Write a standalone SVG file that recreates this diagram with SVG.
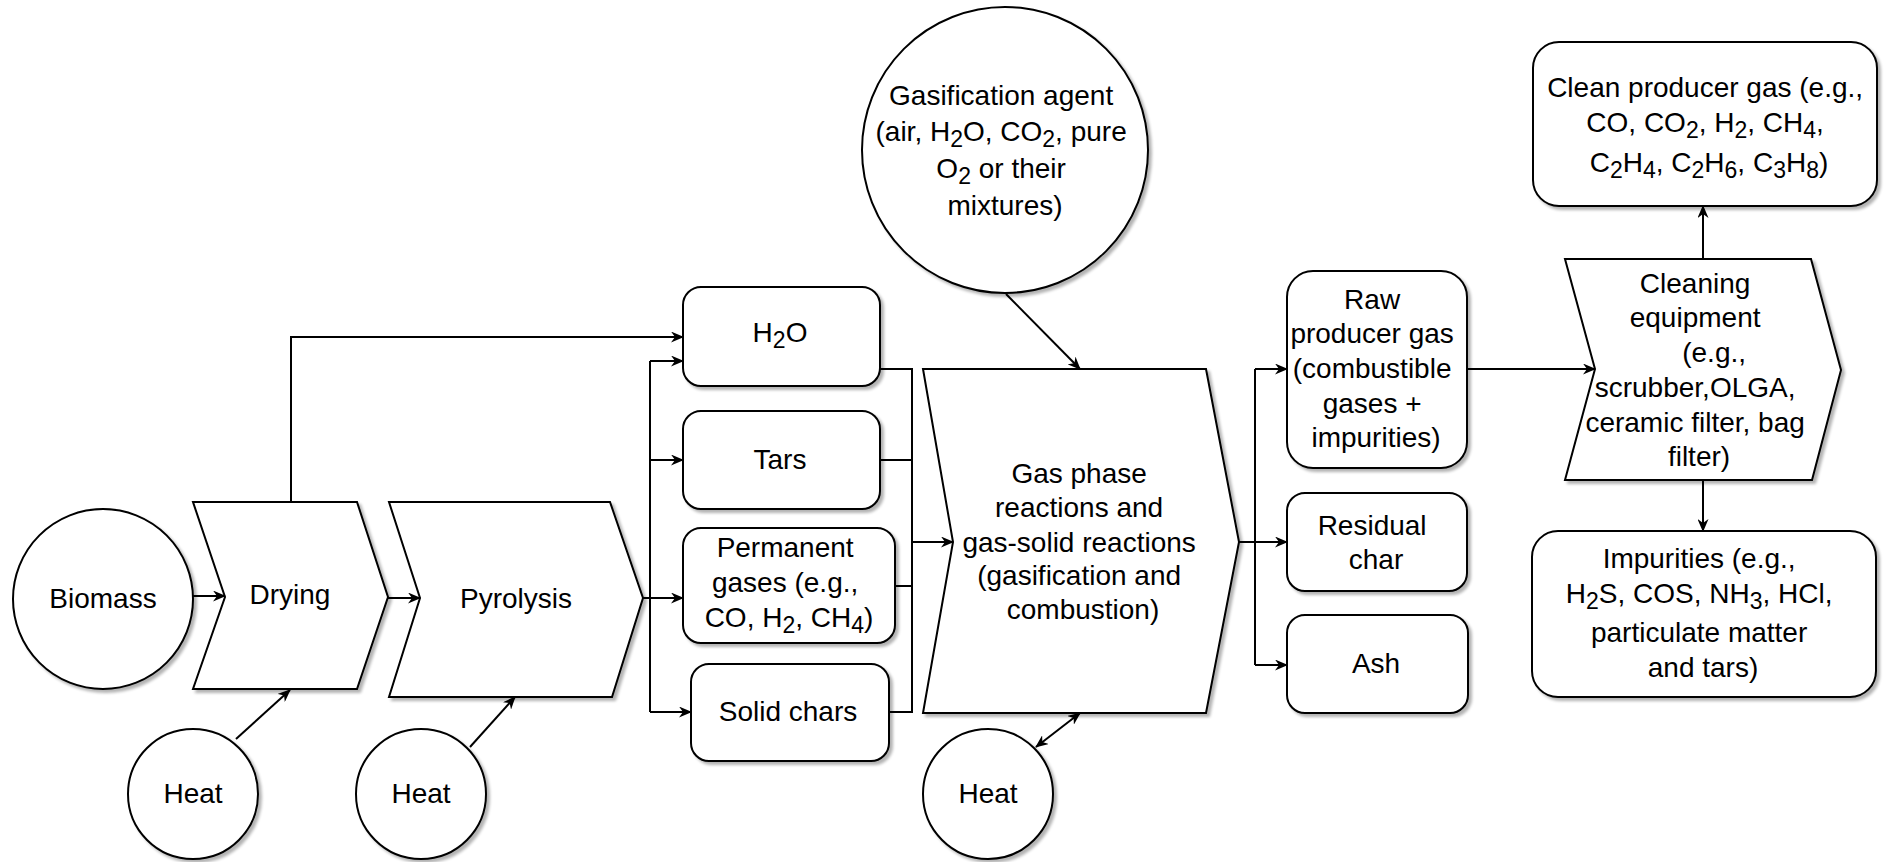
<svg xmlns="http://www.w3.org/2000/svg" width="1885" height="862" viewBox="0 0 1885 862">
  <style>
    .shape { fill: #ffffff; stroke: #000000; stroke-width: 2; filter: url(#shadow); }
    .lbl { font-family: "Liberation Sans", Arial, Helvetica, sans-serif; font-size: 28px; fill: #000000; text-anchor: middle; }
    .sub { font-size: 23px; }
    .edge { fill: none; stroke: #000000; stroke-width: 2; }
    .arrow { marker-end: url(#head); }
    .both { marker-start: url(#head); marker-end: url(#head); }
  </style>
  <defs>
    <filter id="shadow" x="-10%" y="-10%" width="130%" height="130%">
      <feGaussianBlur in="SourceAlpha" stdDeviation="1.5"/>
      <feOffset dx="3" dy="3" result="off"/>
      <feComponentTransfer><feFuncA type="linear" slope="0.3"/></feComponentTransfer>
      <feMerge><feMergeNode/><feMergeNode in="SourceGraphic"/></feMerge>
    </filter>
    <marker id="head" viewBox="0 0 13 11" refX="12" refY="5.5" markerWidth="13" markerHeight="11" markerUnits="userSpaceOnUse" orient="auto-start-reverse">
      <path d="M0,0 L13,5.5 L0,11 L4,5.5 Z" fill="#000000"/>
    </marker>
  </defs>
  <rect x="0" y="0" width="1885" height="862" fill="#ffffff"/>

  <!-- feedstock and first stages -->
  <g id="biomass">
    <circle class="shape" cx="103" cy="599" r="90"/>
    <text class="lbl" x="103" y="608">Biomass</text>
  </g>
  <g id="drying">
    <path class="shape" d="M193,502 L357,502 L388,597 L357,689 L193,689 L225,597 Z"/>
    <text class="lbl" x="290" y="604">Drying</text>
  </g>
  <g id="pyrolysis">
    <path class="shape" d="M389,502 L610,502 L643,598 L612,697 L389,697 L420,598 Z"/>
    <text class="lbl" x="516" y="608">Pyrolysis</text>
  </g>
  <g id="heat-drying">
    <circle class="shape" cx="193" cy="794" r="65"/>
    <text class="lbl" x="193" y="803">Heat</text>
  </g>
  <g id="heat-pyrolysis">
    <circle class="shape" cx="421" cy="794" r="65"/>
    <text class="lbl" x="421" y="803">Heat</text>
  </g>

  <!-- pyrolysis products -->
  <g id="h2o">
    <rect class="shape" x="683" y="287" width="197" height="99" rx="18" ry="18"/>
    <text class="lbl" x="780" y="342">H<tspan class="sub" dy="6">2</tspan><tspan dy="-6">O</tspan></text>
  </g>
  <g id="tars">
    <rect class="shape" x="683" y="411" width="197" height="98" rx="18" ry="18"/>
    <text class="lbl" x="780" y="469">Tars</text>
  </g>
  <g id="permanent-gases">
    <rect class="shape" x="683" y="528" width="212" height="115" rx="18" ry="18"/>
    <text class="lbl">
      <tspan x="789" y="557">Permanent</tspan>
      <tspan x="789" y="592">gases (e.g.,</tspan>
      <tspan x="789" y="627">CO, H<tspan class="sub" dy="6">2</tspan><tspan dy="-6">, CH</tspan><tspan class="sub" dy="6">4</tspan><tspan dy="-6">)</tspan></tspan>
    </text>
  </g>
  <g id="solid-chars">
    <rect class="shape" x="691" y="664" width="198" height="97" rx="18" ry="18"/>
    <text class="lbl" x="788" y="721">Solid chars</text>
  </g>

  <!-- gasifier -->
  <g id="gasification-agent">
    <circle class="shape" cx="1005" cy="150" r="143"/>
    <text class="lbl">
      <tspan x="1005" y="105">Gasification agent</tspan>
      <tspan x="1005" y="141">(air, H<tspan class="sub" dy="6">2</tspan><tspan dy="-6">O, CO</tspan><tspan class="sub" dy="6">2</tspan><tspan dy="-6">, pure</tspan></tspan>
      <tspan x="1005" y="178">O<tspan class="sub" dy="6">2</tspan><tspan dy="-6"> or their</tspan></tspan>
      <tspan x="1005" y="215">mixtures)</tspan>
    </text>
  </g>
  <g id="gas-phase-reactions">
    <path class="shape" d="M923,369 L1206,369 L1239,542 L1206,713 L923,713 L953,542 Z"/>
    <text class="lbl">
      <tspan x="1083" y="483">Gas phase</tspan>
      <tspan x="1083" y="517">reactions and</tspan>
      <tspan x="1083" y="552">gas-solid reactions</tspan>
      <tspan x="1083" y="585">(gasification and</tspan>
      <tspan x="1083" y="619">combustion)</tspan>
    </text>
  </g>
  <g id="heat-gasifier">
    <circle class="shape" cx="988" cy="794" r="65"/>
    <text class="lbl" x="988" y="803">Heat</text>
  </g>

  <!-- gasifier outputs -->
  <g id="raw-producer-gas">
    <rect class="shape" x="1287" y="271" width="180" height="197" rx="26" ry="26"/>
    <text class="lbl">
      <tspan x="1376" y="309">Raw</tspan>
      <tspan x="1376" y="343">producer gas</tspan>
      <tspan x="1376" y="378">(combustible</tspan>
      <tspan x="1376" y="413">gases +</tspan>
      <tspan x="1376" y="447">impurities)</tspan>
    </text>
  </g>
  <g id="residual-char">
    <rect class="shape" x="1287" y="493" width="180" height="98" rx="18" ry="18"/>
    <text class="lbl">
      <tspan x="1376" y="535">Residual</tspan>
      <tspan x="1376" y="569">char</tspan>
    </text>
  </g>
  <g id="ash">
    <rect class="shape" x="1287" y="615" width="181" height="98" rx="18" ry="18"/>
    <text class="lbl" x="1376" y="673">Ash</text>
  </g>

  <!-- gas cleaning -->
  <g id="cleaning-equipment">
    <path class="shape" d="M1565,259 L1811,259 L1841,370 L1812,480 L1565,480 L1595,369 Z"/>
    <text class="lbl">
      <tspan x="1699" y="293">Cleaning</tspan>
      <tspan x="1699" y="327">equipment</tspan>
      <tspan x="1718" y="362">(e.g.,</tspan>
      <tspan x="1699" y="397">scrubber,OLGA,</tspan>
      <tspan x="1699" y="432">ceramic filter, bag</tspan>
      <tspan x="1699" y="466">filter)</tspan>
    </text>
  </g>
  <g id="clean-producer-gas">
    <rect class="shape" x="1533" y="42" width="344" height="164" rx="26" ry="26"/>
    <text class="lbl">
      <tspan x="1709" y="97">Clean producer gas (e.g.,</tspan>
      <tspan x="1709" y="132">CO, CO<tspan class="sub" dy="6">2</tspan><tspan dy="-6">, H</tspan><tspan class="sub" dy="6">2</tspan><tspan dy="-6">, CH</tspan><tspan class="sub" dy="6">4</tspan><tspan dy="-6">,</tspan></tspan>
      <tspan x="1709" y="172">C<tspan class="sub" dy="6">2</tspan><tspan dy="-6">H</tspan><tspan class="sub" dy="6">4</tspan><tspan dy="-6">, C</tspan><tspan class="sub" dy="6">2</tspan><tspan dy="-6">H</tspan><tspan class="sub" dy="6">6</tspan><tspan dy="-6">, C</tspan><tspan class="sub" dy="6">3</tspan><tspan dy="-6">H</tspan><tspan class="sub" dy="6">8</tspan><tspan dy="-6">)</tspan></tspan>
    </text>
  </g>
  <g id="impurities">
    <rect class="shape" x="1532" y="531" width="344" height="166" rx="26" ry="26"/>
    <text class="lbl">
      <tspan x="1703" y="568">Impurities (e.g.,</tspan>
      <tspan x="1703" y="603">H<tspan class="sub" dy="6">2</tspan><tspan dy="-6">S, COS, NH</tspan><tspan class="sub" dy="6">3</tspan><tspan dy="-6">, HCl,</tspan></tspan>
      <tspan x="1703" y="642">particulate matter</tspan>
      <tspan x="1703" y="677">and tars)</tspan>
    </text>
  </g>

  <!-- connectors -->
  <g id="connectors">
    <path class="edge arrow" d="M193,596 L225,596"/>
    <path class="edge arrow" d="M388,598 L420,598"/>
    <path class="edge arrow" d="M236,739 L290,690"/>
    <path class="edge arrow" d="M470,747 L515,697"/>
    <path class="edge arrow" d="M291,502 L291,337 L683,337"/>
    <!-- distribution of pyrolysis products -->
    <path class="edge" d="M643,598 L650,598 M650,361 L650,712"/>
    <path class="edge arrow" d="M650,361 L683,361"/>
    <path class="edge arrow" d="M650,460 L683,460"/>
    <path class="edge arrow" d="M650,598 L683,598"/>
    <path class="edge arrow" d="M650,712 L691,712"/>
    <!-- collection into the gasifier -->
    <path class="edge" d="M880,369 L912,369 L912,712 L889,712 M880,460 L912,460 M895,586 L912,586"/>
    <path class="edge arrow" d="M912,542 L953,542"/>
    <path class="edge arrow" d="M1006,294 L1080,369"/>
    <path class="edge both" d="M1036,747 L1080,713"/>
    <!-- gasifier outputs -->
    <path class="edge" d="M1239,542 L1255,542 M1255,369 L1255,665"/>
    <path class="edge arrow" d="M1255,369 L1287,369"/>
    <path class="edge arrow" d="M1255,542 L1287,542"/>
    <path class="edge arrow" d="M1255,665 L1287,665"/>
    <path class="edge arrow" d="M1467,369 L1595,369"/>
    <path class="edge arrow" d="M1703,259 L1703,206"/>
    <path class="edge arrow" d="M1703,480 L1703,531"/>
  </g>
</svg>
